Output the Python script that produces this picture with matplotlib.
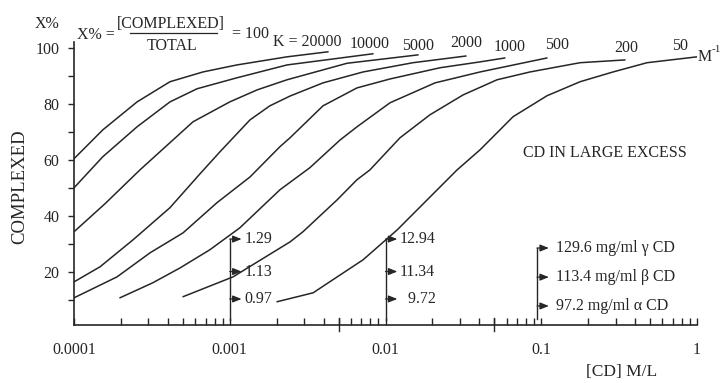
import matplotlib
matplotlib.use("Agg")
import matplotlib.pyplot as plt
from matplotlib.lines import Line2D
from matplotlib.ticker import FixedLocator, NullFormatter

plt.rcParams["font.family"] = ["Liberation Serif", "DejaVu Serif"]

# binding curves: [CD] (M/L) and % complexed
k_labels = ["K = 20000", "10000", "5000", "2000", "1000", "500", "200", "50"]

cd_20000 = [1.0e-4, 1.53e-4, 2.54e-4, 4.13e-4, 6.73e-4, 1.11e-3, 2.33e-3, 4.28e-3]
pct_20000 = [60.5, 70.8, 80.8, 88.0, 91.5, 94.0, 96.9, 98.7]

cd_10000 = [1.0e-4, 1.53e-4, 2.54e-4, 4.13e-4, 6.17e-4, 1.11e-3, 2.33e-3, 8.32e-3]
pct_10000 = [50.1, 61.2, 71.9, 80.8, 85.5, 89.4, 94.0, 98.0]

cd_5000 = [1.0e-4, 1.58e-4, 2.65e-4, 5.81e-4, 1.0e-3, 1.5e-3, 2.33e-3, 5.66e-3, 1.62e-2]
pct_5000 = [34.4, 44.4, 56.5, 73.7, 80.8, 85.1, 88.7, 94.6, 97.6]

cd_2000 = [1.0e-4, 1.47e-4, 2.39e-4, 4.13e-4, 6.44e-4, 8.66e-4, 1.35e-3, 1.81e-3,
           2.44e-3, 3.97e-3, 7.18e-3, 1.50e-2, 3.29e-2]
pct_2000 = [16.5, 21.9, 31.5, 43.0, 55.1, 63.0, 74.4, 79.4, 82.9, 87.6, 91.5, 94.8, 97.2]

cd_1000 = [1.0e-4, 1.89e-4, 3.08e-4, 5.01e-4, 8.28e-4, 1.35e-3, 2.10e-3, 2.44e-3,
           3.97e-3, 6.56e-3, 1.07e-2, 2.24e-2, 4.05e-2, 5.85e-2]
pct_1000 = [10.8, 18.3, 26.9, 34.0, 44.8, 54.0, 64.8, 68.0, 79.4, 85.8, 89.0, 93.0, 95.1, 96.5]

cd_500 = [1.97e-4, 3.21e-4, 4.80e-4, 7.46e-4, 1.16e-3, 2.10e-3, 3.27e-3, 5.11e-3,
          6.56e-3, 1.07e-2, 2.08e-2, 4.05e-2, 1.089e-1]
pct_500 = [10.8, 16.2, 21.5, 28.0, 35.8, 49.4, 57.3, 67.2, 71.9, 80.5, 87.6, 91.5, 96.5]

cd_200 = [5.01e-4, 1.05e-3, 2.44e-3, 2.95e-3, 4.89e-3, 6.56e-3, 7.94e-3, 1.24e-2,
          1.93e-2, 3.15e-2, 5.20e-2, 8.47e-2, 1.774e-1, 3.451e-1]
pct_200 = [11.2, 18.3, 30.8, 34.4, 45.8, 53.0, 56.5, 68.0, 76.2, 83.3, 88.7, 91.5, 94.8, 95.8]

cd_50 = [2.01e-3, 3.43e-3, 7.18e-3, 1.19e-2, 2.88e-2, 4.05e-2, 6.59e-2, 1.089e-1,
         1.774e-1, 2.891e-1, 4.775e-1, 1.0]
pct_50 = [9.4, 12.6, 24.4, 35.1, 56.5, 63.7, 75.5, 83.0, 88.0, 91.5, 94.8, 96.9]

curves = [(cd_20000, pct_20000), (cd_10000, pct_10000), (cd_5000, pct_5000),
          (cd_2000, pct_2000), (cd_1000, pct_1000), (cd_500, pct_500),
          (cd_200, pct_200), (cd_50, pct_50)]

# concentration markers ("CD in large excess")
mark_x = [0.001, 0.01, 0.094]
mark_labels = [["1.29", "1.13", "0.97"],
               ["12.94", "11.34", "  9.72"],
               ["129.6 mg/ml \u03b3 CD", "113.4 mg/ml \u03b2 CD", "97.2 mg/ml \u03b1 CD"]]
mark_y = [[31.8, 20.2, 10.4], [31.8, 20.2, 10.4], [28.6, 18.2, 7.9]]
mark_bottom = [2.9, 2.9, 3.2]

INK = "#262626"
W, H = 723, 383


def px(x, y):
    return x / W, 1 - y / H


fig = plt.figure(figsize=(7.23, 3.83), dpi=100)
ax = fig.add_axes([74 / W, 1 - 325 / H, (697 - 74) / W, (325 - 42) / H])

for cd, pct in curves:
    ax.plot(cd, pct, color=INK, lw=1.1, solid_joinstyle="round", solid_capstyle="round")

ax.set_xscale("log")
ax.set_xlim(1e-4, 1)
ax.set_ylim(1.1, 102.2)

for s in ["top", "right"]:
    ax.spines[s].set_visible(False)
for s in ["left", "bottom"]:
    ax.spines[s].set_linewidth(1.2)
    ax.spines[s].set_color(INK)

ax.set_xticks([1e-4, 1e-3, 1e-2, 1e-1, 1])
ax.set_xticklabels(["0.0001", "0.001", "0.01", "0.1", "1"])
ax.xaxis.set_minor_formatter(NullFormatter())
ax.tick_params(axis="x", which="both", direction="in", length=5, width=1.0,
               colors=INK, labelsize=11.5, pad=12)
ax.set_yticks([20, 40, 60, 80, 100])
ax.yaxis.set_minor_locator(FixedLocator([10, 30, 50, 70, 90]))
ax.tick_params(axis="y", which="both", direction="out", length=4.5, width=1.0,
               colors=INK, labelsize=11.5, pad=6)

# the two long marks on the x axis
for xm in [0.005, 0.05]:
    ax.plot([xm, xm], [-0.02, 0.025], transform=ax.get_xaxis_transform(),
            color=INK, lw=1.0, clip_on=False)

# brackets with arrows
for xb, labs, ys, yb in zip(mark_x, mark_labels, mark_y, mark_bottom):
    ax.plot([xb, xb], [yb, ys[0]], color=INK, lw=1.0)
    gap = 3 if len(labs[0]) > 6 else 0
    for lab, yy in zip(labs, ys):
        ax.annotate(lab, xy=(xb, yy), xytext=(10.5 + gap, 0), textcoords="offset points",
                    ha="left", va="center", fontsize=11.5, color=INK,
                    arrowprops=dict(arrowstyle="<|-,head_length=0.45,head_width=0.18",
                                    color=INK, lw=0.9, shrinkA=gap, shrinkB=0))

# curve labels along the top
label_pos = [(307, 42), (370, 44), (418, 46), (466, 43), (510, 47), (557, 45), (626, 48), (680, 46)]
for lab, (lx, ly) in zip(k_labels, label_pos):
    fig.text(*px(lx, ly), lab, ha="center", va="center", fontsize=11.5, color=INK)
fig.text(*px(698, 57), "M", ha="left", va="center", fontsize=11.5, color=INK)
fig.text(*px(712, 50), "-1", ha="left", va="center", fontsize=8, color=INK)

# definition of X%
fig.text(*px(47, 24), "X%", ha="center", va="center", fontsize=11.5, color=INK)
fig.text(*px(77, 35), "X% =", ha="left", va="center", fontsize=11.5, color=INK)
fig.text(*px(171, 24), "[COMPLEXED]", ha="center", va="center", fontsize=11.5, color=INK)
fig.text(*px(172, 46), "TOTAL", ha="center", va="center", fontsize=11.5, color=INK)
fig.text(*px(232, 34), "= 100", ha="left", va="center", fontsize=11.5, color=INK)
x0, y0 = px(130, 33)
x1, _ = px(217, 33)
fig.add_artist(Line2D([x0, x1], [y0, y0], color=INK, lw=0.9))

fig.text(*px(20, 187), "COMPLEXED", rotation=90, ha="center", va="center",
         fontsize=13.5, color=INK)
fig.text(*px(622, 372), "[CD] M/L", ha="center", va="center", fontsize=12.5, color=INK)
fig.text(*px(605, 153), "CD IN LARGE EXCESS", ha="center", va="center", fontsize=11.5, color=INK)

fig.savefig("out.png", dpi=100)
